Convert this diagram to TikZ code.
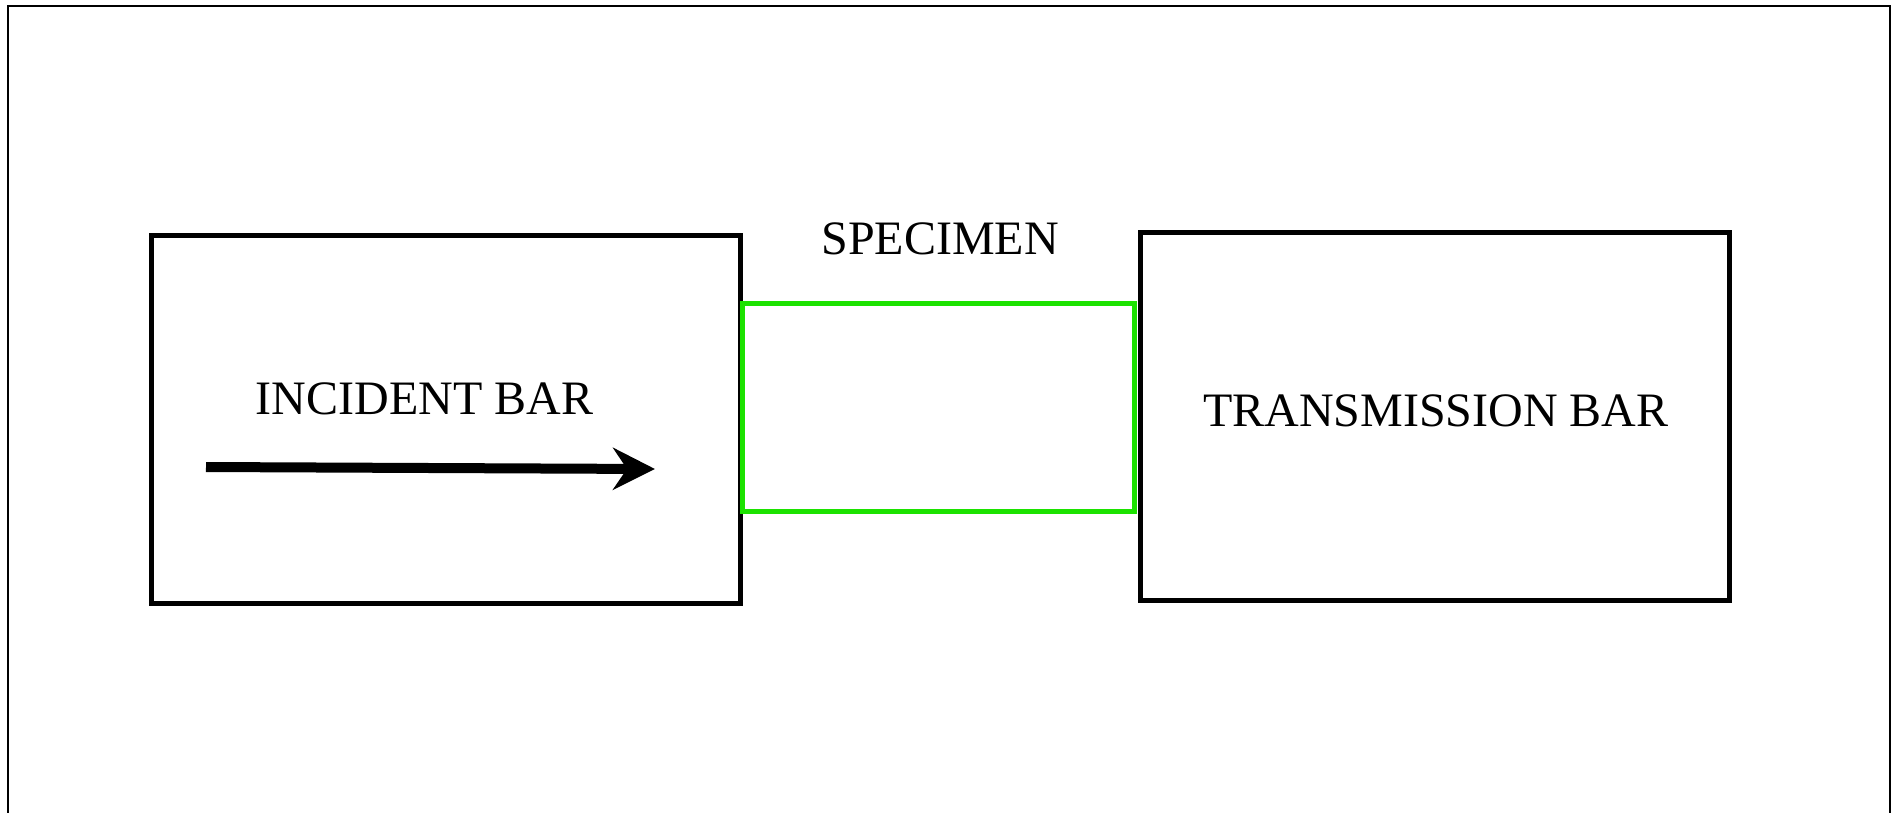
\documentclass[tikz,border=0pt]{standalone}
\usepackage{fontspec}
\setmainfont{Liberation Serif}
\usetikzlibrary{arrows.meta}
\definecolor{specgreen}{RGB}{28,226,0}
\tikzset{
  barbox/.style={draw=black, line width=5pt, minimum width=589pt, minimum height=368pt, inner sep=0pt},
  specbox/.style={draw=specgreen, line width=5pt, minimum width=392pt, minimum height=208pt, inner sep=0pt},
  lbl/.style={font=\fontsize{48}{56}\selectfont, anchor=base, inner sep=0pt},
  frame/.style={draw=black, line width=2.5pt},
  bigarrow/.style={line width=10pt, -{Stealth[length=42pt, width=42pt, inset=14pt]}}
}
\begin{document}
\begin{tikzpicture}[x=1pt, y=-1pt]
\useasboundingbox (0,0) rectangle (1896,812);
\draw[frame] (8,830) -- (8,6) -- (1890,6) -- (1890,830);
\node[barbox] (incident) at (445.5,419) {};
\node[barbox] (transmission) at (1434.5,416) {};
\node[specbox] (specimen) at (938,407) {};
\node[lbl] (inclbl) at (424.5,414) {INCIDENT BAR};
\node[lbl] (translbl) at (1436,426) {TRANSMISSION BAR};
\node[lbl] (speclbl) at (940,254) {SPECIMEN};
\coordinate (arrstart) at (206,467);
\coordinate (arrend) at (655,469);
\draw[bigarrow] (arrstart) -- (arrend);
\end{tikzpicture}
\end{document}
